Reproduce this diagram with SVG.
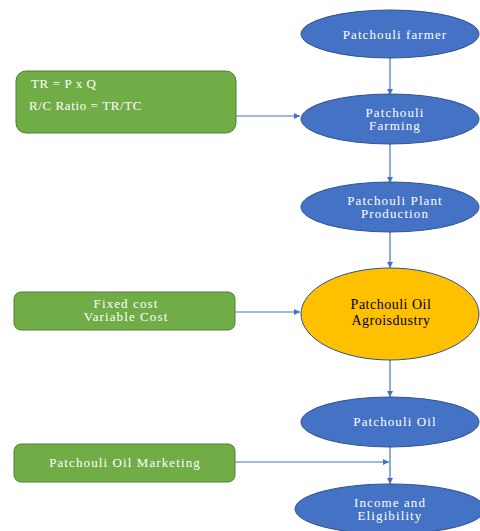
<svg xmlns="http://www.w3.org/2000/svg" width="480" height="531" viewBox="0 0 480 531">
<defs>
<style>
.b{fill:#4472C4;stroke:#2F528F;stroke-width:1}
.y{fill:#FFC000;stroke:#2F528F;stroke-width:1}
.g{fill:#70AD47;stroke:#507E32;stroke-width:1}
.t{font-family:"Liberation Serif","Times New Roman",serif;font-size:13px;fill:#fff;letter-spacing:1.1px}
.f{font-family:"Liberation Serif","Times New Roman",serif;font-size:13px;fill:#fff;letter-spacing:0.6px}
.k{font-family:"Liberation Serif","Times New Roman",serif;font-size:14px;fill:#000;letter-spacing:0.5px}
.c{stroke:#4472C4;stroke-width:1.2;fill:none;marker-end:url(#a)}
</style>
<marker id="a" viewBox="0 0 10 10" refX="10" refY="5" markerWidth="6" markerHeight="6" orient="auto" markerUnits="userSpaceOnUse"><path d="M0,0L10,5L0,10z" fill="#4472C4"/></marker>
</defs>
<rect width="480" height="531" fill="#fff"/>
<g id="connectors">
<line class="c" x1="390" y1="58" x2="390" y2="95"/>
<line class="c" x1="390" y1="144" x2="390" y2="183"/>
<line class="c" x1="390" y1="232" x2="390" y2="268"/>
<line class="c" x1="390" y1="360" x2="390" y2="397"/>
<line class="c" x1="390" y1="447" x2="390" y2="484"/>
<line class="c" x1="236" y1="116" x2="300" y2="116"/>
<line class="c" x1="235" y1="312" x2="300" y2="312"/>
<line class="c" x1="235" y1="462" x2="389" y2="462"/>
</g>
<g id="n1"><ellipse class="b" cx="390" cy="34" rx="89" ry="24"/><text class="t" x="395" y="38.5" text-anchor="middle">Patchouli farmer</text></g>
<g id="n2"><ellipse class="b" cx="390" cy="119" rx="89" ry="25"/><text class="t" x="395" y="116.5" text-anchor="middle">Patchouli</text><text class="t" x="395" y="129.5" text-anchor="middle">Farming</text></g>
<g id="n3"><ellipse class="b" cx="390" cy="207" rx="89" ry="25"/><text class="t" x="395" y="204.5" text-anchor="middle">Patchouli Plant</text><text class="t" x="395" y="217.5" text-anchor="middle">Production</text></g>
<g id="n4"><ellipse class="y" cx="390" cy="314" rx="89" ry="46"/><text class="k" x="391" y="308.5" text-anchor="middle">Patchouli Oil</text><text class="k" x="391" y="325" text-anchor="middle">Agroisdustry</text></g>
<g id="n5"><ellipse class="b" cx="390" cy="422" rx="89" ry="25"/><text class="t" x="395" y="425.5" text-anchor="middle">Patchouli Oil</text></g>
<g id="n6"><ellipse class="b" cx="390" cy="509" rx="95" ry="25"/><text class="t" x="390" y="506.5" text-anchor="middle">Income and</text><text class="t" x="390" y="519.5" text-anchor="middle">Eligibility</text></g>
<g id="b1"><rect class="g" x="16" y="71" width="220" height="62" rx="10"/><text class="f" x="31" y="88">TR = P x Q</text><text class="f" x="29" y="110">R/C Ratio = TR/TC</text></g>
<g id="b2"><rect class="g" x="14" y="292" width="221" height="38" rx="7"/><text class="t" x="126" y="307.5" text-anchor="middle">Fixed cost</text><text class="t" x="126" y="320.5" text-anchor="middle">Variable Cost</text></g>
<g id="b3"><rect class="g" x="14" y="444" width="221" height="38" rx="7"/><text class="t" x="125" y="466.5" text-anchor="middle">Patchouli Oil Marketing</text></g>
</svg>
